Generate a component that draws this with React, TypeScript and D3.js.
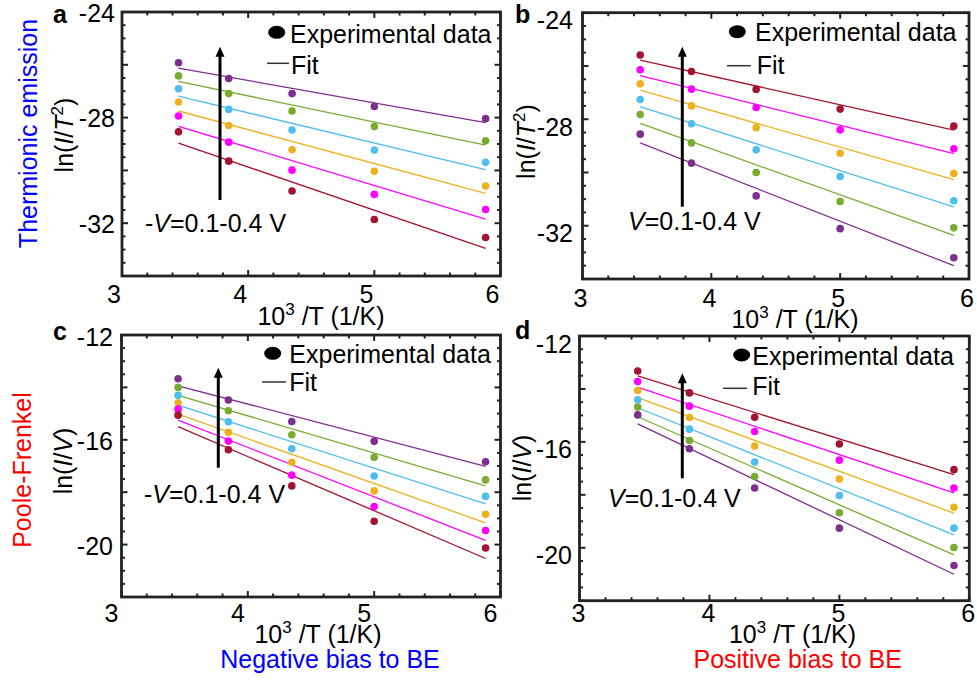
import React from 'react';
import * as d3 from 'd3';

// 10^3/T for T = 290, 260, 230, 200, 170 K
const invT = [3.448, 3.846, 4.348, 5.0, 5.882];

// series colours, same order in every panel
const seriesColors = ['#7E2F8E', '#77AC30', '#4DBEEE', '#EDB120', '#FF00FF', '#A2142F'];

// panel a: ln(I/T^2), negative bias
const aPoints = [
  [-25.92, -26.52, -27.09, -27.58, -28.04],
  [-26.42, -27.09, -27.75, -28.34, -28.88],
  [-26.91, -27.69, -28.47, -29.23, -29.69],
  [-27.41, -28.30, -29.22, -30.03, -30.59],
  [-27.94, -28.93, -29.99, -30.91, -31.48],
  [-28.54, -29.65, -30.78, -31.86, -32.54],
];
const aFit = [
  [-26.13, -28.19],
  [-26.63, -29.04],
  [-27.19, -29.97],
  [-27.75, -30.87],
  [-28.33, -31.85],
  [-28.97, -32.95],
];

// panel b: ln(I/T^2), positive bias
const bPoints = [
  [-28.56, -29.65, -30.88, -32.11, -33.20],
  [-27.82, -28.89, -30.00, -31.09, -32.08],
  [-27.26, -28.17, -29.15, -30.15, -31.06],
  [-26.67, -27.50, -28.32, -29.28, -30.04],
  [-26.14, -26.87, -27.56, -28.40, -29.11],
  [-25.59, -26.21, -26.88, -27.62, -28.26],
];
const bFit = [
  [-28.89, -33.50],
  [-28.16, -32.36],
  [-27.53, -31.29],
  [-26.91, -30.27],
  [-26.36, -29.29],
  [-25.78, -28.41],
];

// panel c: ln(I/V), negative bias
const cPoints = [
  [-13.67, -14.48, -15.30, -16.06, -16.84],
  [-14.00, -14.89, -15.81, -16.67, -17.53],
  [-14.30, -15.31, -16.34, -17.38, -18.16],
  [-14.59, -15.71, -16.86, -17.95, -18.84],
  [-14.83, -16.05, -17.35, -18.55, -19.46],
  [-15.06, -16.38, -17.76, -19.11, -20.13],
];
const cFit = [
  [-13.94, -17.01],
  [-14.30, -17.76],
  [-14.68, -18.45],
  [-15.02, -19.17],
  [-15.25, -19.84],
  [-15.50, -20.53],
];

// panel d: ln(I/V), positive bias
const dPoints = [
  [-14.98, -16.26, -17.74, -19.26, -20.67],
  [-14.68, -15.95, -17.31, -18.68, -19.99],
  [-14.41, -15.52, -16.76, -18.03, -19.26],
  [-14.06, -15.08, -16.16, -17.40, -18.47],
  [-13.72, -14.65, -15.61, -16.69, -17.74],
  [-13.32, -14.15, -15.07, -16.08, -17.05],
];
const dFit = [
  [-15.32, -21.00],
  [-15.05, -20.27],
  [-14.71, -19.51],
  [-14.33, -18.69],
  [-13.93, -17.93],
  [-13.51, -17.24],
];

const xTickLabels = [3, 4, 5, 6];
const thermTicks = [-24, -28, -32];
const pfTicks = [-12, -16, -20];

const FONT = 'Liberation Sans, Arial, Helvetica, sans-serif';
const FS = 25;

type PanelProps = {
  letter: string;
  box: [number, number, number, number]; // left, right, top, bottom
  yDomain: [number, number];
  yTicks: number[];
  points: number[][];
  fit: number[][];
  yLabel: 'T2' | 'V';
  negative: boolean;
  // layout tweaks
  letterPos: [number, number];
  xTickDx: number;
  xTickY: number;
  yTickRight: number;
  yTickDy: number;
  yLabelPos: [number, number];
  xLabelPos: [number, number];
  legend: { dot: [number, number]; textX: number; textY: number; line: [number, number, number]; fitX: number; fitY: number };
  arrow: [number, number, number];
  annot: [number, number];
};

function Panel(p: PanelProps) {
  const [l, r, t, b] = p.box;
  const x = d3.scaleLinear().domain([3, 6]).range([l, r]);
  const y = d3.scaleLinear().domain(p.yDomain).range([t, b]);

  const xMinor = d3.range(3, 6.0001, 0.2);
  const yMinor = d3.range(p.yDomain[1], p.yDomain[0] + 0.0001, 0.5);
  const isMajorX = (v: number) => Math.abs(v - Math.round(v)) < 1e-6;
  const isMajorY = (v: number) => Math.abs(v / 2 - Math.round(v / 2)) < 1e-6;

  const line = d3.line<[number, number]>().x(d => x(d[0])).y(d => y(d[1]));
  const [ax, ay0, ay1] = p.arrow;

  return (
    <g fontFamily={FONT} fontSize={FS} fill="#000">
      {/* fit lines */}
      {p.fit.map((f, i) => (
        <path key={'f' + i} d={line([[invT[0], f[0]], [invT[invT.length - 1], f[1]]]) || ''}
          stroke={seriesColors[i]} strokeWidth={1.3} fill="none" />
      ))}
      {/* data points */}
      {p.points.map((row, i) => row.map((v, j) => (
        <circle key={`p${i}-${j}`} cx={x(invT[j])} cy={y(v)} r={3.8} fill={seriesColors[i]} />
      )))}

      {/* ticks, all four sides, pointing in */}
      {xMinor.map((v, i) => {
        const len = isMajorX(v) ? 6 : 3.5;
        return (
          <g key={'xt' + i} stroke="#222" strokeWidth={2}>
            <line x1={x(v)} x2={x(v)} y1={b} y2={b - len} />
            <line x1={x(v)} x2={x(v)} y1={t} y2={t + len} />
          </g>
        );
      })}
      {yMinor.map((v, i) => {
        const len = isMajorY(v) ? 6 : 3.5;
        return (
          <g key={'yt' + i} stroke="#222" strokeWidth={2}>
            <line x1={l} x2={l + len} y1={y(v)} y2={y(v)} />
            <line x1={r} x2={r - len} y1={y(v)} y2={y(v)} />
          </g>
        );
      })}
      <rect x={l} y={t} width={r - l} height={b - t} fill="none" stroke="#222" strokeWidth={2.8} />

      {/* tick labels */}
      {xTickLabels.map(v => (
        <text key={'xl' + v} x={x(v) + p.xTickDx} y={p.xTickY} textAnchor="middle">{v}</text>
      ))}
      {p.yTicks.map(v => (
        <text key={'yl' + v} x={p.yTickRight} y={y(v) + p.yTickDy} textAnchor="end">{v}</text>
      ))}

      {/* axis labels */}
      <text x={p.xLabelPos[0]} y={p.xLabelPos[1]} textAnchor="middle">
        10<tspan fontSize={17} dy={-10}>3</tspan><tspan dy={10}> /T (1/K)</tspan>
      </text>
      <text transform={`translate(${p.yLabelPos[0]},${p.yLabelPos[1]}) rotate(-90)`} textAnchor="middle">
        ln(<tspan fontStyle="italic">I</tspan>/
        {p.yLabel === 'T2'
          ? <><tspan fontStyle="italic">T</tspan><tspan fontSize={17} dy={-10}>2</tspan><tspan dy={10}>)</tspan></>
          : <><tspan fontStyle="italic">V</tspan>)</>}
      </text>

      {/* panel letter */}
      <text x={p.letterPos[0]} y={p.letterPos[1]} fontWeight="bold">{p.letter}</text>

      {/* legend */}
      <ellipse cx={p.legend.dot[0]} cy={p.legend.dot[1]} rx={8.5} ry={6.5} fill="#000" />
      <text x={p.legend.textX} y={p.legend.textY}>Experimental data</text>
      <line x1={p.legend.line[0]} x2={p.legend.line[1]} y1={p.legend.line[2]} y2={p.legend.line[2]} stroke="#333" strokeWidth={1.5} />
      <text x={p.legend.fitX} y={p.legend.fitY}>Fit</text>

      {/* arrow + annotation */}
      <line x1={ax} x2={ax} y1={ay0} y2={ay1 + 8} stroke="#000" strokeWidth={3} />
      <polygon points={`${ax},${ay1} ${ax - 4.5},${ay1 + 10} ${ax + 4.5},${ay1 + 10}`} fill="#000" />
      <text x={p.annot[0]} y={p.annot[1]}>
        {p.negative ? '-' : ''}<tspan fontStyle="italic">V</tspan>=0.1-0.4 V
      </text>
    </g>
  );
}

export default function App() {
  return (
    <svg width={977} height={686} style={{ position: 'fixed', left: 0, top: 0, background: '#fff' }}>
      <Panel letter="a" box={[122, 500.5, 12, 276]} yDomain={[-24, -34]} yTicks={thermTicks}
        points={aPoints} fit={aFit} yLabel="T2" negative
        letterPos={[53, 23]} xTickDx={-8} xTickY={303} yTickRight={115} yTickDy={9.5}
        yLabelPos={[73, 135]} xLabelPos={[321, 325]}
        legend={{ dot: [276.7, 32.3], textX: 290, textY: 42.7, line: [267, 289, 63.3], fitX: 291, fitY: 74 }}
        arrow={[220, 200, 46.7]} annot={[145, 231.7]} />
      <Panel letter="b" box={[582.5, 969, 12.7, 279]} yDomain={[-24, -34]} yTicks={thermTicks}
        points={bPoints} fit={bFit} yLabel="T2" negative={false}
        letterPos={[515, 22.7]} xTickDx={-2} xTickY={307} yTickRight={573} yTickDy={16.5}
        yLabelPos={[535, 141.5]} xLabelPos={[795, 328]}
        legend={{ dot: [737.3, 31.7], textX: 755, textY: 40.7, line: [727, 751, 65.7], fitX: 756.7, fitY: 74 }}
        arrow={[682.3, 206.7, 46.7]} annot={[628, 230]} />
      <Panel letter="c" box={[121.5, 500.5, 335, 597]} yDomain={[-12, -22]} yTicks={pfTicks}
        points={cPoints} fit={cFit} yLabel="V" negative
        letterPos={[53, 340]} xTickDx={-10} xTickY={622} yTickRight={113} yTickDy={10.5}
        yLabelPos={[72, 461]} xLabelPos={[318, 643]}
        legend={{ dot: [272.7, 353.3], textX: 289.3, textY: 362.7, line: [262, 286, 382], fitX: 289.3, fitY: 391 }}
        arrow={[218.3, 467.7, 367.7]} annot={[144, 503.3]} />
      <Panel letter="d" box={[579.5, 969.3, 336, 600.7]} yDomain={[-12, -22]} yTicks={pfTicks}
        points={dPoints} fit={dFit} yLabel="V" negative={false}
        letterPos={[515, 339]} xTickDx={-1} xTickY={622} yTickRight={572} yTickDy={16.5}
        yLabelPos={[531, 468]} xLabelPos={[792.5, 643]}
        legend={{ dot: [741.7, 355], textX: 752.3, textY: 365, line: [723, 747, 388.3], fitX: 752.3, fitY: 395 }}
        arrow={[682.3, 478.3, 373.3]} annot={[608, 507]} />

      {/* row / column captions */}
      <g fontFamily={FONT} fontSize={FS}>
        <text transform="translate(37,133.5) rotate(-90)" textAnchor="middle" fill="#0000FF">Thermionic emission</text>
        <text transform="translate(31,470) rotate(-90)" textAnchor="middle" fill="#FF0000">Poole-Frenkel</text>
        <text x={330} y={668} textAnchor="middle" fill="#0000FF">Negative bias to BE</text>
        <text x={797.7} y={668} textAnchor="middle" fill="#FF0000">Positive bias to BE</text>
      </g>
    </svg>
  );
}
